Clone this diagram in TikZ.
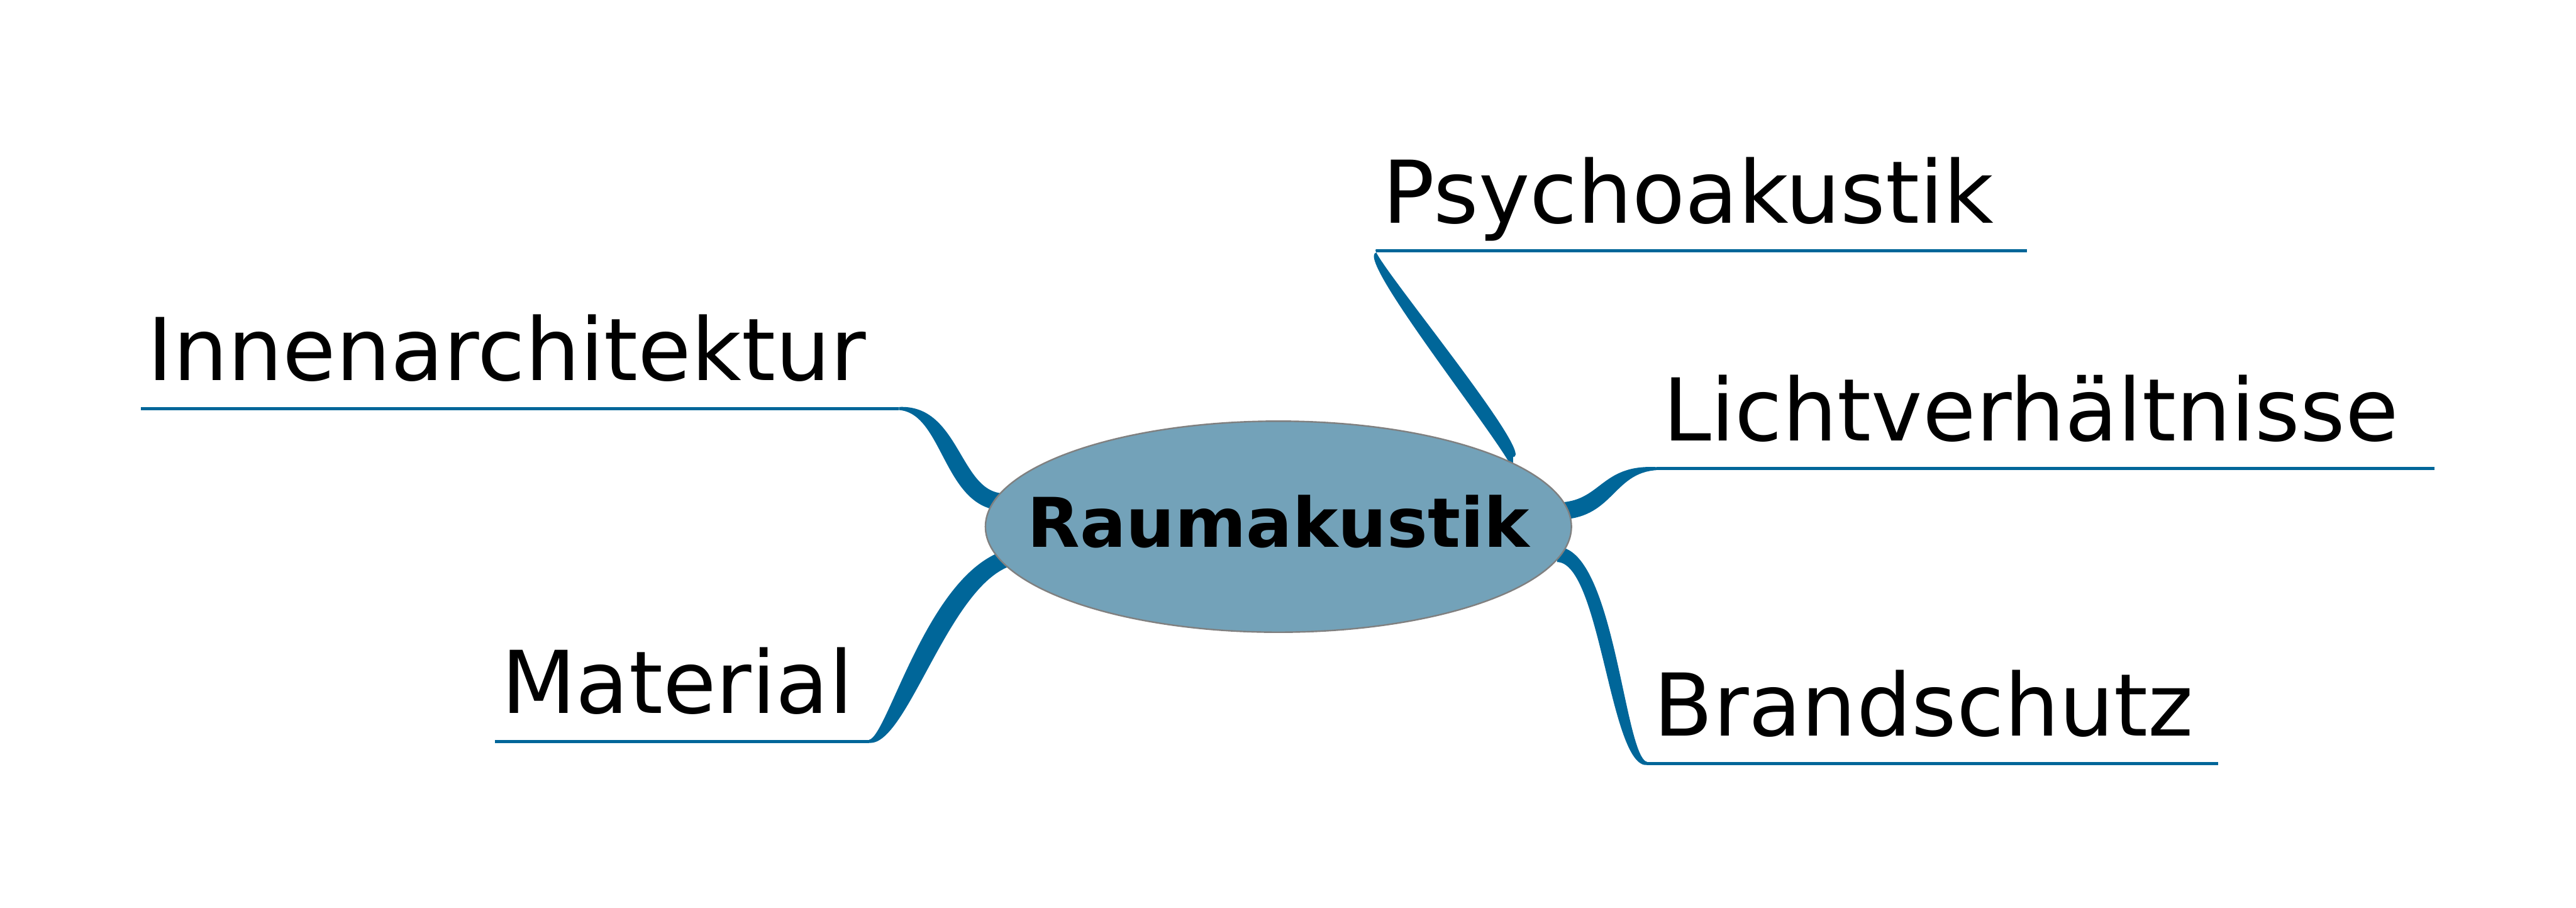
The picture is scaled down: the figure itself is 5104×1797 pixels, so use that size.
\documentclass[tikz,border=0pt]{standalone}
\usepackage{fontspec}
\setmainfont{DejaVu Sans}
\usepackage{tikz}
\usetikzlibrary{shapes.geometric, positioning, calc, backgrounds}
\definecolor{mapblue}{RGB}{0,102,153}
\definecolor{hubfill}{RGB}{115,162,185}
\definecolor{hubline}{RGB}{128,128,128}

\begin{document}
\begin{tikzpicture}[
    x=0.1mm, y=-0.1mm,
    hub/.style={ellipse, draw=hubline, line width=0.3mm, fill=hubfill, minimum width=116.1mm, minimum height=41.8mm, inner sep=0pt},
    hubtext/.style={font=\fontsize{38.6}{46}\selectfont\bfseries, text height=8.2mm, text depth=0pt, inner sep=0pt},
    topic/.style={font=\fontsize{48.8}{58}\selectfont, inner xsep=1.2mm, inner ysep=0pt, text width=#1, align=left, text height=13mm, text depth=5.45mm},
    branch/.style={fill=mapblue},
    stem/.style={draw=mapblue, line width=0.6mm}
]
    \useasboundingbox (0,0) rectangle (5104,1797);

    % Central topic
    \node[hub, label={[hubtext]center:Raumakustik}] (hub) at (2533,1043) {};

    % Left topics
    \node[topic=147.6mm, anchor=south east] (innen) at (1781,809) {Innenarchitektur};
    \node[topic=71.6mm, anchor=south east] (material) at (1722,1468) {Material};

    % Right topics
    \node[topic=126.4mm, anchor=south west] (psycho) at (2727,497) {Psychoakustik};
    \node[topic=151.6mm, anchor=south west] (licht) at (3282,928) {Lichtverhältnisse};
    \node[topic=110.5mm, anchor=south west] (brand) at (3264,1512) {Brandschutz};

    % Branch roots under the hub
    \coordinate (innenroot) at ($(hub.center)+(-543,-49)$);
    \coordinate (materialroot) at ($(hub.center)+(-503,57)$);
    \coordinate (psychoroot) at ($(hub.center)+(465,-121)$);
    \coordinate (lichtroot) at ($(hub.center)+(552,-31)$);
    \coordinate (brandroot) at ($(hub.center)+(552,55)$);

    % Branches
    \begin{scope}[on background layer]
    \fill[branch] ($(innenroot)+(0,-17)$) .. controls +(-89,0) and +(121,-6) .. ($(innen.south east)+(0,-3)$)
        -- ($(innen.south east)+(0,3)$) .. controls +(89,6) and +(-121,0) .. ($(innenroot)+(0,17)$) -- cycle;
    \fill[branch] ($(materialroot)+(0,-16)$) .. controls +(-180,0) and +(40,-8) .. ($(material.south east)+(0,-3)$)
        -- ($(material.south east)+(0,3)$) .. controls +(80,8) and +(-140,0) .. ($(materialroot)+(0,16)$) -- cycle;
    \fill[branch] ($(psychoroot)+(0,-17)$) .. controls +(50,0) and +(-30,-9) .. ($(psycho.south west)+(0,-3)$)
        -- ($(psycho.south west)+(0,3)$) .. controls +(-50,9) and +(30,0) .. ($(psychoroot)+(0,17)$) -- cycle;
    \fill[branch] ($(lichtroot)+(0,-17)$) .. controls +(88,0) and +(-112,-6) .. ($(licht.south west)+(0,-3)$)
        -- ($(licht.south west)+(0,3)$) .. controls +(-88,6) and +(112,0) .. ($(lichtroot)+(0,17)$) -- cycle;
    \fill[branch] ($(brandroot)+(0,-15)$) .. controls +(114,0) and +(-46,-8) .. ($(brand.south west)+(0,-3)$)
        -- ($(brand.south west)+(0,3)$) .. controls +(-74,8) and +(86,0) .. ($(brandroot)+(0,15)$) -- cycle;
    \end{scope}

    % Underlines
    \draw[stem] (innen.south west) -- (innen.south east);
    \draw[stem] (material.south west) -- (material.south east);
    \draw[stem] (psycho.south west) -- (psycho.south east);
    \draw[stem] (licht.south west) -- (licht.south east);
    \draw[stem] (brand.south west) -- (brand.south east);
\end{tikzpicture}
\end{document}
